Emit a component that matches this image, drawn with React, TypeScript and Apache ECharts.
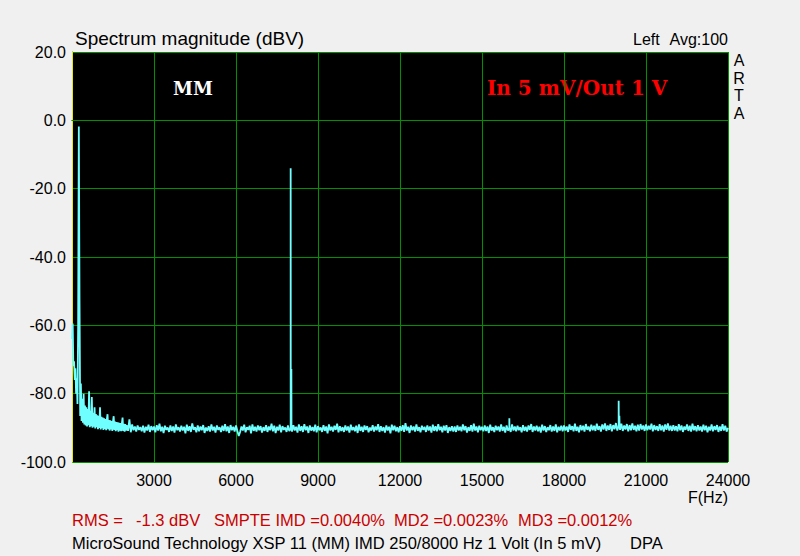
import React, { useEffect, useRef } from "react";
import * as echarts from "echarts";

// Low-frequency region: 0 .. 1975 Hz, one value every 25 Hz (dBV)
const lowStepHz = 25;
const lowDb = [
  -64.0, -59.5, -72.0, -70.5, -76.0, -72.6, -80.0, -75.5, -83.0, -60.0,
  -1.8, -52.6, -86.5, -77.0, -88.0, -81.5, -88.5, -80.0, -89.0, -83.5,
  -89.3, -84.0, -89.6, -84.5, -89.2, -79.3, -89.8, -85.0, -89.5, -81.0,
  -90.0, -85.6, -89.7, -84.0, -90.2, -86.0, -89.8, -86.3, -90.4, -86.5,
  -90.0, -84.0, -90.5, -86.8, -90.1, -87.0, -90.6, -87.2, -90.3, -87.4,
  -90.7, -87.5, -86.0, -90.4, -87.7, -90.8, -87.8, -90.5, -88.0, -90.9,
  -88.1, -86.6, -90.6, -88.2, -91.0, -88.3, -90.7, -88.4, -91.1, -88.5,
  -90.8, -88.6, -91.0, -88.7, -87.0, -90.9, -88.8, -91.1, -88.9, -90.8,
];

// Noise floor: 2000 .. 24000 Hz, one value every 50 Hz (dBV)
const floorStartHz = 2000;
const floorStepHz = 50;
const floorDb = [
  -89.2, -90.9, -87.5, -91.3, -89.0, -90.7, -89.6, -91.1, -89.3, -90.6, -89.8, -91.0, -89.4, -91.4, -89.7, -90.8, -89.1, -91.2, -89.5, -90.7,
  -89.6, -91.3, -89.2, -90.8, -88.8, -91.0, -89.7, -91.5, -89.4, -90.6, -89.9, -91.2, -89.3, -90.9, -89.6, -91.4, -89.0, -90.7, -89.8, -91.1,
  -89.4, -90.8, -89.7, -91.6, -89.1, -90.9, -89.5, -91.2, -88.7, -90.6, -89.8, -91.3, -89.3, -91.0, -89.6, -90.7, -89.2, -91.5, -89.9, -90.9,
  -89.5, -91.1, -89.0, -90.8, -89.7, -91.4, -89.3, -90.6, -89.8, -91.2, -89.4, -90.9, -88.9, -91.0, -89.6, -91.5, -89.2, -90.7, -89.7, -91.1,
  -89.3, -90.9, -92.4, -91.2, -89.6, -90.8, -89.1, -91.3, -89.8, -90.6, -89.4, -91.6, -89.0, -90.9, -89.7, -91.1, -89.3, -90.7, -89.5, -91.4,
  -89.8, -90.9, -89.2, -91.2, -89.6, -90.7, -88.8, -91.0, -89.4, -91.5, -89.7, -90.8, -89.1, -91.3, -89.5, -90.6, -89.9, -91.2, -89.3, -90.9,
  -89.6, -91.1, -89.2, -90.8, -89.7, -91.4, -89.0, -90.9, -89.5, -91.2, -88.9, -90.7, -89.6, -91.5, -89.3, -90.8, -89.8, -91.0, -89.1, -91.3,
  -89.5, -90.7, -89.9, -91.2, -89.2, -90.9, -89.6, -91.6, -89.0, -90.8, -89.7, -91.1, -89.4, -90.6, -88.8, -91.3, -89.5, -90.9, -89.8, -91.2,
  -89.3, -90.8, -89.6, -91.4, -89.1, -90.7, -89.8, -91.0, -89.4, -91.5, -89.0, -90.9, -89.7, -91.2, -89.3, -90.6, -89.5, -91.3, -89.9, -90.8,
  -89.2, -91.1, -89.6, -90.7, -88.9, -91.2, -89.5, -90.9, -89.8, -91.4, -89.3, -90.8, -89.7, -91.6, -89.1, -90.7, -89.4, -91.0, -89.8, -91.3,
  -89.5, -90.9, -89.2, -91.2, -88.6, -90.8, -89.7, -91.5, -89.3, -90.7, -89.6, -91.1, -89.0, -90.9, -89.8, -91.3, -89.4, -90.6, -89.7, -91.2,
  -89.3, -90.8, -89.6, -91.4, -89.1, -90.9, -89.5, -91.0, -88.9, -90.7, -89.7, -91.3, -89.4, -90.8, -89.2, -91.5, -89.8, -90.9, -89.5, -91.1,
  -89.6, -91.2, -89.3, -90.8, -89.7, -91.0, -89.0, -90.7, -89.5, -91.4, -89.8, -90.9, -89.2, -91.1, -88.8, -90.8, -89.6, -91.3, -89.4, -90.7,
  -89.7, -91.0, -89.3, -90.9, -89.6, -91.5, -89.1, -90.8, -89.8, -91.2, -89.4, -90.7, -89.6, -91.1, -89.0, -90.9, -89.7, -91.4, -89.3, -90.8,
  -89.5, -91.2, -89.0, -90.8, -89.6, -91.0, -89.4, -90.7, -89.8, -91.3, -89.2, -90.9, -89.7, -91.1, -89.3, -90.6, -88.9, -91.2, -89.6, -90.8,
  -89.4, -91.0, -89.7, -91.4, -89.1, -90.8, -89.5, -91.2, -89.8, -90.7, -89.2, -91.1, -89.6, -90.9, -89.0, -91.3, -89.7, -90.8, -89.4, -91.0,
  -89.3, -90.8, -89.6, -91.2, -89.0, -90.6, -89.5, -91.0, -88.8, -90.9, -89.7, -91.3, -89.2, -90.7, -89.4, -91.1, -88.9, -90.6, -89.6, -91.0,
  -89.1, -90.7, -89.4, -90.9, -88.8, -90.6, -89.5, -91.1, -89.0, -90.5, -88.7, -90.9, -89.3, -90.6, -88.9, -91.0, -89.2, -90.4, -88.6, -90.8,
  -89.0, -90.6, -88.8, -90.9, -89.3, -90.5, -88.9, -91.0, -89.2, -90.7, -88.7, -90.6, -89.4, -91.0, -89.1, -90.8, -88.9, -90.5, -89.3, -90.9,
  -89.0, -90.7, -89.4, -90.5, -88.8, -91.0, -89.2, -90.6, -89.5, -90.9, -88.9, -90.7, -89.3, -91.1, -89.0, -90.6, -88.7, -90.8, -89.4, -90.9,
  -89.2, -90.8, -89.5, -91.0, -88.9, -90.7, -89.3, -91.2, -89.6, -90.6, -89.0, -90.9, -89.4, -91.1, -88.8, -90.7, -89.5, -91.0, -89.2, -90.8,
  -89.6, -91.1, -89.1, -90.7, -89.4, -91.3, -89.7, -90.8, -89.0, -91.0, -89.5, -90.6, -89.2, -91.2, -89.6, -90.9, -88.9, -90.8, -89.4, -91.1,
  -90.0,
];

// Narrow spectral lines (Hz, dBV) including their bases
const spikeHz = [7996, 8000, 8004, 8022, 8026, 8030, 15996, 16000, 16004, 19994, 20000, 20006, 20026, 20034];
const spikeDb = [-90.3, -14.0, -90.2, -90.0, -72.8, -90.4, -90.2, -87.2, -90.0, -89.6, -82.1, -89.2, -86.5, -89.4];

const xTicks = { min: 0, max: 24000, interval: 3000 };
const yTicks = { min: -100, max: 20, interval: 20 };

const FONT = '"Liberation Sans", Arial, sans-serif';
const SERIF = '"DejaVu Serif", "Liberation Serif", serif';

export default function App() {
  const ref = useRef<HTMLDivElement>(null);

  useEffect(() => {
    if (!ref.current) return;
    const chart = echarts.init(ref.current, undefined, { renderer: "svg" });

    const pts: [number, number][] = [];
    lowDb.forEach((v, i) => pts.push([i * lowStepHz, v]));
    floorDb.forEach((v, i) => pts.push([floorStartHz + i * floorStepHz, v]));
    spikeHz.forEach((f, i) => pts.push([f, spikeDb[i]]));
    pts.sort((a, b) => a[0] - b[0]);

    const green = "#009000";
    const txt = (text: string, x: number, y: number, extra: any = {}) => ({
      type: "text",
      x,
      y,
      silent: true,
      style: {
        text,
        fill: "#000",
        font: `16px ${FONT}`,
        align: "left",
        verticalAlign: "middle",
        ...extra,
      },
    });
    const red = "#c80000";
    const bottomFont = `16.5px ${FONT}`;

    chart.setOption({
      animation: false,
      backgroundColor: "#f0f0f0",
      grid: {
        left: 72,
        top: 52,
        width: 656,
        height: 410,
        show: true,
        backgroundColor: "#000",
        borderWidth: 0,
      },
      xAxis: [
        {
          type: "value",
          ...xTicks,
          position: "bottom",
          axisLine: { show: true, lineStyle: { color: green, width: 1 } },
          axisTick: { show: false },
          splitLine: { show: true, lineStyle: { color: green, width: 1 } },
          axisLabel: {
            color: "#000",
            fontFamily: FONT,
            fontSize: 16,
            margin: 10,
            formatter: (v: number) => (v === 0 ? "" : String(v)),
          },
        },
        {
          type: "value",
          ...xTicks,
          position: "top",
          axisLine: { show: true, lineStyle: { color: green, width: 1 } },
          axisTick: { show: false },
          splitLine: { show: false },
          axisLabel: { show: false },
        },
      ],
      yAxis: [
        {
          type: "value",
          ...yTicks,
          position: "left",
          axisLine: { show: true, lineStyle: { color: green, width: 1 } },
          axisTick: { show: false },
          splitLine: { show: true, lineStyle: { color: green, width: 1 } },
          axisLabel: {
            color: "#000",
            fontFamily: FONT,
            fontSize: 16,
            margin: 6,
            formatter: (v: number) => v.toFixed(1),
          },
        },
        {
          type: "value",
          ...yTicks,
          position: "right",
          axisLine: { show: true, lineStyle: { color: "#e8e800", width: 1 } },
          axisTick: { show: false },
          splitLine: { show: false },
          axisLabel: { show: false },
        },
      ],
      series: [
        {
          type: "line",
          data: pts,
          showSymbol: false,
          symbol: "none",
          lineStyle: { color: "#70ffff", width: 1.8 },
          z: 5,
        },
      ],
      graphic: [
        txt("Spectrum magnitude (dBV)", 75, 38, { font: `19px ${FONT}` }),
        txt("Left", 633, 39),
        txt("Avg:100", 728, 39, { align: "right" }),
        txt("A\nR\nT\nA", 739, 87, { align: "center", lineHeight: 17.4 }),
        txt("F(Hz)", 728, 497, { align: "right" }),
        txt("MM", 193, 88, { align: "center", fill: "#fff", font: `bold 18px ${SERIF}` }),
        txt("In 5 mV/Out 1 V", 487, 88, { fill: "#ff0000", font: `bold 20px ${SERIF}` }),
        txt("RMS =", 72, 520, { fill: red, font: bottomFont }),
        txt("-1.3 dBV", 136, 520, { fill: red, font: bottomFont }),
        txt("SMPTE IMD =0.0040%", 214, 520, { fill: red, font: bottomFont }),
        txt("MD2 =0.0023%", 394, 520, { fill: red, font: bottomFont }),
        txt("MD3 =0.0012%", 518, 520, { fill: red, font: bottomFont }),
        txt("MicroSound Technology XSP 11 (MM) IMD 250/8000 Hz 1 Volt (In 5 mV)", 72, 543, { font: bottomFont }),
        txt("DPA", 630, 543, { font: bottomFont }),
      ],
    });

    return () => chart.dispose();
  }, []);

  return (
    <div
      ref={ref}
      style={{ position: "fixed", left: 0, top: 0, width: 800, height: 556, background: "#f0f0f0" }}
    />
  );
}
